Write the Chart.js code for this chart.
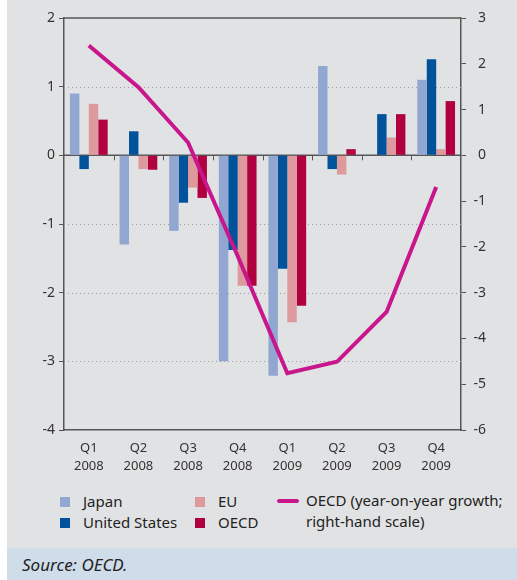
<!DOCTYPE html>
<html>
<head>
<meta charset="utf-8">
<script src="https://cdn.jsdelivr.net/npm/chart.js@4"></script>
<style>
    body { margin: 0; width: 517px; height: 580px; background: #fff; font-family: 'Noto Sans', sans-serif; overflow: hidden; }
    #panel { position: absolute; left: 7px; top: 0; width: 510px; height: 548px; background: #e1e2e4; }
    #chart-box { position: absolute; left: 0; top: 0; width: 510px; height: 480px; }
    #source { position: absolute; left: 7px; top: 548px; width: 510px; height: 32px; background: #cfdcea; }
    #source span { position: absolute; left: 15px; top: 5px; font-style: italic; font-size: 17px; color: #222; }
    .leg { position: absolute; font-size: 15px; color: #222; line-height: 21px; }
    .sq { position: absolute; width: 10px; height: 10px; }
    .ln { position: absolute; width: 22px; height: 4px; border-radius: 2px; }
</style>
</head>
<body>
<div id="panel">
    <div id="chart-box"><canvas id="chart"></canvas></div>
</div>
<div id="legend"></div>
<div id="source"><span>Source: OECD.</span></div>
<script>
const quarters = [['Q1', '2008'], ['Q2', '2008'], ['Q3', '2008'], ['Q4', '2008'],
                  ['Q1', '2009'], ['Q2', '2009'], ['Q3', '2009'], ['Q4', '2009']];
const japan = [0.9, -1.3, -1.1, -3.0, -3.21, 1.3, 0, 1.1];
const unitedStates = [-0.2, 0.35, -0.69, -1.38, -1.65, -0.2, 0.6, 1.4];
const eu = [0.75, -0.2, -0.47, -1.9, -2.43, -0.28, 0.26, 0.09];
const oecd = [0.52, -0.21, -0.62, -1.9, -2.19, 0.09, 0.6, 0.79];
const oecdYoY = [2.4, 1.49, 0.28, -2.2, -4.76, -4.51, -3.42, -0.69];
const leftTicks = [2, 1, 0, -1, -2, -3, -4];
const rightTicks = [3, 2, 1, 0, -1, -2, -3, -4, -5, -6];
const dottedLines = [1, -1, -2, -3];

const colors = { japan: '#91a6d1', us: '#00529b', eu: '#dd999b', oecd: '#b10040', line: '#c8168c' };
const axisColor = '#555';

// legend in html, same as the original layout
const legendItems = [
    { label: 'Japan', color: colors.japan, x: 53, y: 491 },
    { label: 'United States', color: colors.us, x: 53, y: 512 },
    { label: 'EU', color: colors.eu, x: 188, y: 491 },
    { label: 'OECD', color: colors.oecd, x: 188, y: 512 }
];
const legendEl = document.getElementById('legend');
legendItems.forEach(item => {
    legendEl.innerHTML += `<div class="sq" style="left:${item.x + 7}px;top:${item.y + 6}px;background:${item.color}"></div>
        <div class="leg" style="left:${item.x + 30}px;top:${item.y}px">${item.label}</div>`;
});
legendEl.innerHTML += `<div class="ln" style="left:277px;top:499px;background:${colors.line}"></div>
    <div class="leg" style="left:306px;top:490px">OECD (year-on-year growth;<br>right-hand scale)</div>`;

// gridlines, zero line and category ticks
const decorPlugin = {
    id: 'decor',
    beforeDatasetsDraw(chart) {
        const { ctx, chartArea, scales } = chart;
        const y = scales.y;
        ctx.save();
        ctx.strokeStyle = '#9a9a9a';
        ctx.lineWidth = 1;
        ctx.setLineDash([1, 3]);
        dottedLines.forEach(v => {
            const py = Math.round(y.getPixelForValue(v)) + 0.5;
            ctx.beginPath();
            ctx.moveTo(chartArea.left, py);
            ctx.lineTo(chartArea.right, py);
            ctx.stroke();
        });
        ctx.setLineDash([]);
        ctx.strokeStyle = axisColor;
        ctx.lineWidth = 1.5;
        const zero = y.getPixelForValue(0);
        ctx.beginPath();
        ctx.moveTo(chartArea.left, zero);
        ctx.lineTo(chartArea.right, zero);
        ctx.moveTo(chartArea.left, chartArea.top);
        ctx.lineTo(chartArea.right, chartArea.top);
        ctx.stroke();
        const step = (chartArea.right - chartArea.left) / quarters.length;
        ctx.lineWidth = 1;
        for (let i = 1; i < quarters.length; i++) {
            const px = Math.round(chartArea.left + step * i) + 0.5;
            ctx.beginPath();
            ctx.moveTo(px, zero);
            ctx.lineTo(px, zero + 5);
            ctx.stroke();
        }
        ctx.restore();
    }
};

const tickFont = { family: "'Noto Sans', sans-serif", size: 14 };

new Chart(document.getElementById('chart'), {
    data: {
        labels: quarters,
        datasets: [
            { type: 'line', label: 'OECD (year-on-year growth; right-hand scale)', data: oecdYoY, yAxisID: 'y2',
              borderColor: colors.line, borderWidth: 4, pointRadius: 0, fill: false, tension: 0, order: 0 },
            { type: 'bar', label: 'Japan', data: japan, backgroundColor: colors.japan, yAxisID: 'y', order: 1 },
            { type: 'bar', label: 'United States', data: unitedStates, backgroundColor: colors.us, yAxisID: 'y', order: 1 },
            { type: 'bar', label: 'EU', data: eu, backgroundColor: colors.eu, yAxisID: 'y', order: 1 },
            { type: 'bar', label: 'OECD', data: oecd, backgroundColor: colors.oecd, yAxisID: 'y', order: 1 }
        ]
    },
    options: {
        responsive: true,
        maintainAspectRatio: false,
        animation: false,
        layout: { padding: { top: 18, left: 0, right: 31, bottom: 0 } },
        datasets: { bar: { categoryPercentage: 0.76, barPercentage: 1.0 } },
        plugins: { legend: { display: false }, tooltip: { enabled: false } },
        scales: {
            x: {
                grid: { display: false },
                border: { display: true, color: axisColor, width: 1.5 },
                ticks: { color: '#333', font: { family: "'Noto Sans', sans-serif", size: 13, lineHeight: 1.35 }, padding: 2, maxRotation: 0, autoSkip: false },
                afterFit(scale) { scale.height = 50; }
            },
            y: {
                position: 'left',
                min: -4, max: 2,
                afterBuildTicks(scale) { scale.ticks = leftTicks.map(v => ({ value: v })); },
                grid: { drawOnChartArea: false, tickLength: 5, color: axisColor, lineWidth: 1 },
                border: { color: axisColor, width: 1.5 },
                ticks: { color: '#333', font: tickFont, padding: 4 },
                afterFit(scale) { scale.width = 57; }
            },
            y2: {
                position: 'right',
                min: -6, max: 3,
                afterBuildTicks(scale) { scale.ticks = rightTicks.map(v => ({ value: v })); },
                grid: { drawOnChartArea: false, tickLength: 5, color: axisColor, lineWidth: 1 },
                border: { color: axisColor, width: 1.5 },
                ticks: { color: '#333', font: tickFont, padding: 4, crossAlign: 'far' },
                afterFit(scale) { scale.width = 25; }
            }
        }
    },
    plugins: [decorPlugin]
});
</script>
</body>
</html>
